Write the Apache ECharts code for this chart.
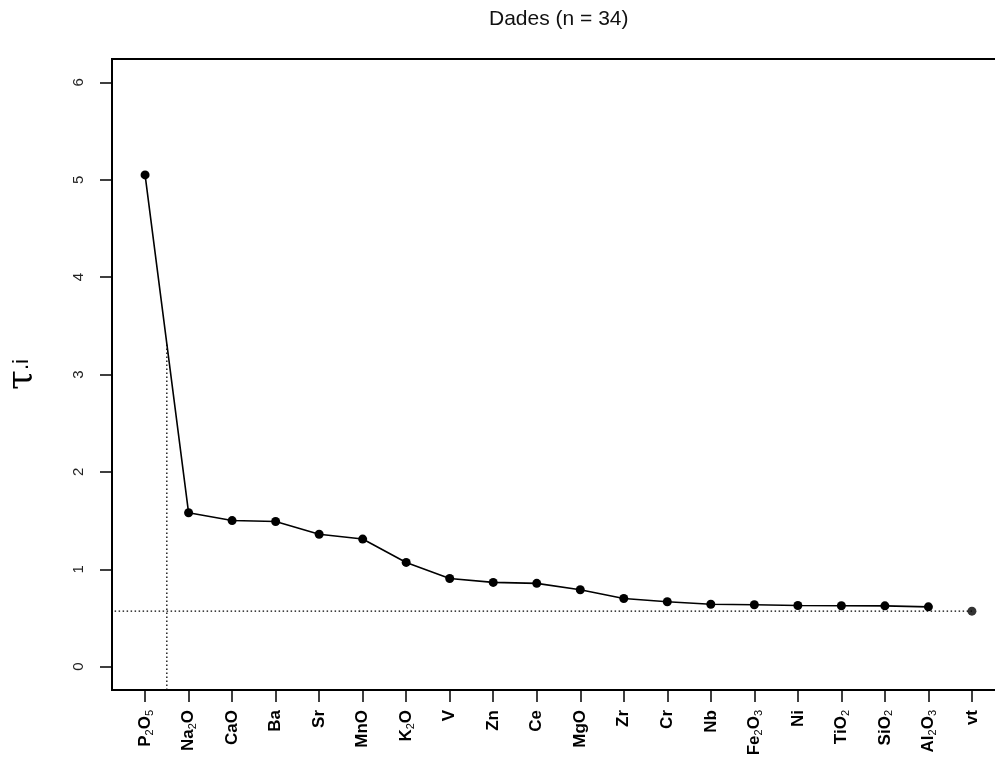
<!DOCTYPE html>
<html>
<head>
<meta charset="utf-8">
<script src="https://cdn.jsdelivr.net/npm/echarts@6/dist/echarts.min.js"></script>
<style>
html,body{margin:0;padding:0;background:#fff;}
#chart{width:995px;height:758px;}
</style>
</head>
<body>
<div id="chart"></div>
<script>
// ---- data ----
var titleText = 'Dades (n = 34)';
var categories = ['P2O5','Na2O','CaO','Ba','Sr','MnO','K2O','V','Zn','Ce','MgO','Zr','Cr','Nb','Fe2O3','Ni','TiO2','SiO2','Al2O3','vt'];
var categoryLabels = ['P{s|2}O{s|5}','Na{s|2}O','CaO','Ba','Sr','MnO','K{s|2}O','V','Zn','Ce','MgO','Zr','Cr','Nb','Fe{s|2}O{s|3}','Ni','TiO{s|2}','SiO{s|2}','Al{s|2}O{s|3}','vt'];
var tauValues = [5.05,1.58,1.50,1.49,1.36,1.31,1.07,0.905,0.865,0.855,0.79,0.70,0.666,0.641,0.635,0.628,0.625,0.624,0.614];
var vtValue = 0.57;
var cutPosition = 1.5;      // vertical dotted cut between P2O5 and Na2O
var cutTop = 3.31;          // where it meets the P2O5-Na2O segment
var yTicks = [0,1,2,3,4,5,6];
var xTicks = [1,2,3,4,5,6,7,8,9,10,11,12,13,14,15,16,17,18,19,20];

// ---- build ----
var lineData = tauValues.map(function(v,i){ return [i+1, v]; });
var vtData = [[categories.length, vtValue]];
var refLine = [[0.3, vtValue],[categories.length, vtValue]];
var cutLine = [[cutPosition, -0.24],[cutPosition, cutTop]];

var font = '"Liberation Sans", Arial, Helvetica, sans-serif';
var chart = echarts.init(document.getElementById('chart'), null, {renderer:'canvas'});
chart.setOption({
  animation:false,
  backgroundColor:'#fff',
  title:{
    text:titleText, left:484, top:4,
    textStyle:{fontFamily:font, fontSize:21, fontWeight:'normal', color:'#111'}
  },
  grid:{left:112, top:59, bottom:68, right:-10, outerBoundsMode:'none', containLabel:false,
        show:true, borderColor:'#000', borderWidth:2, backgroundColor:'transparent'},
  xAxis:{
    type:'value', min:0.24, max:20.76,
    axisLine:{show:false, onZero:false},
    splitLine:{show:false},
    axisTick:{show:true, customValues:xTicks, length:12, lineStyle:{color:'#000', width:1.5}},
    axisLabel:{
      customValues:xTicks, rotate:90, margin:20,
      fontFamily:font, fontSize:17, fontWeight:'bold', color:'#000',
      formatter:function(v){ return categoryLabels[Math.round(v)-1] || ''; },
      rich:{
        s:{fontFamily:font, fontSize:11, fontWeight:'normal', color:'#000', lineHeight:11, verticalAlign:'bottom'}
      },
      lineHeight:20
    }
  },
  yAxis:{
    type:'value', min:-0.24, max:6.24,
    axisLine:{show:false, onZero:false},
    splitLine:{show:false},
    axisTick:{show:true, customValues:yTicks, length:12, lineStyle:{color:'#000', width:1.5}},
    axisLabel:{customValues:yTicks, rotate:90, margin:26, fontFamily:font, fontSize:15, color:'#222'},
    name:'{t|τ}{i|.i}', nameLocation:'middle', nameRotate:90, nameGap:72,
    nameTextStyle:{
      fontSize:30,
      rich:{
        t:{fontFamily:'"DejaVu Serif", serif', fontSize:36, color:'#000'},
        i:{fontFamily:font, fontSize:22, color:'#000'}
      }
    }
  },
  series:[
    {
      type:'line', data:cutLine, symbol:'none', silent:true,
      lineStyle:{color:'#000', width:1.3, type:[1.5,2.5]}
    },
    {
      type:'line', data:refLine, symbol:'none', silent:true,
      lineStyle:{color:'#000', width:1.3, type:[1.5,2.5]}
    },
    {
      type:'line', data:lineData, symbol:'circle', symbolSize:9, silent:true,
      itemStyle:{color:'#000'}, lineStyle:{color:'#000', width:1.6}
    },
    {
      type:'scatter', data:vtData, symbol:'circle', symbolSize:9, silent:true,
      itemStyle:{color:'#000'}
    }
  ]
});
</script>
</body>
</html>
